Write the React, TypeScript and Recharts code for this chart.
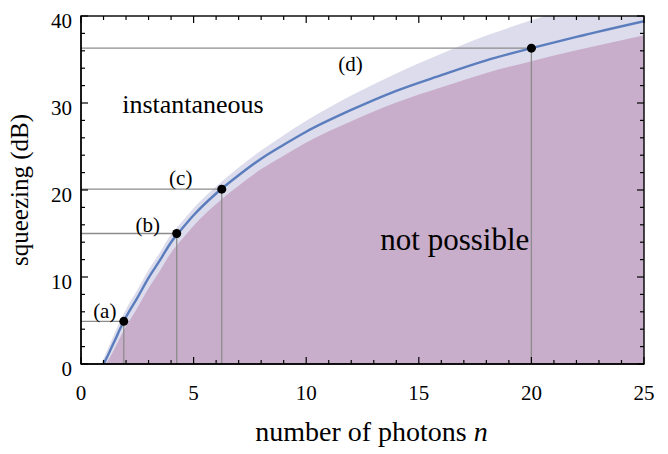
import React from 'react';
import {
  ComposedChart,
  Area,
  Line,
  Scatter,
  XAxis,
  YAxis,
  ReferenceLine,
  ReferenceDot,
  Label,
} from 'recharts';

// ---------- data ----------
const photons = [0.9, 1, 1.1, 1.25, 1.5, 1.75, 2, 2.5, 3, 3.5, 4, 4.5, 5, 6, 7, 8, 9, 10, 12, 14, 16, 18, 20, 22, 25];
const squeezing = [null, 0, 0.5, 1.3, 2.7, 4.1, 5.4, 7.6, 9.9, 11.9, 14.0, 15.6, 17.1, 19.6, 21.7, 23.6, 25.2, 26.7, 29.2, 31.4, 33.2, 34.9, 36.3, 37.6, 39.4];
const upperBound = [0, 0.6, 1.2, 2.1, 3.6, 5.0, 6.3, 8.5, 10.8, 12.8, 14.9, 16.4, 17.9, 20.4, 22.6, 24.55, 26.3, 27.95, 30.85, 33.4, 35.65, 37.75, 39.5, 41.2, 43.6];
const lowerBound = [null, null, 0, 0.6, 1.8, 3.1, 4.3, 6.45, 8.7, 10.7, 12.8, 14.4, 15.9, 18.4, 20.5, 22.4, 23.95, 25.45, 27.9, 30.05, 31.8, 33.45, 34.8, 36.05, 37.8];

const markedN = [1.9, 4.25, 6.25, 20];
const markedDb = [4.9, 15.0, 20.1, 36.3];
const markLabels = ['(a)', '(b)', '(c)', '(d)'];

const xMinorTicks = [0, 1, 2, 3, 4, 5, 6, 7, 8, 9, 10, 11, 12, 13, 14, 15, 16, 17, 18, 19, 20, 21, 22, 23, 24, 25];
const xMajorTicks = [0, 5, 10, 15, 20, 25];
const yMinorTicks = [0, 2, 4, 6, 8, 10, 12, 14, 16, 18, 20, 22, 24, 26, 28, 30, 32, 34, 36, 38, 40];
const yMajorTicks = [0, 10, 20, 30, 40];

const regionTexts = ['instantaneous', 'not possible'];
const regionN = [4.97, 16.6];
const regionDb = [29.9, 14.4];

// ---------- build tables ----------
const table = photons.map((n, i) => ({
  n,
  upper: upperBound[i],
  squeezing: squeezing[i],
  lower: lowerBound[i],
}));
const points = markedN.map((n, i) => ({ n, db: markedDb[i], label: markLabels[i] }));

// ---------- layout & styling ----------
const X_MIN = 0;
const X_MAX = 25;
const Y_MIN = 0;
const Y_MAX = 40;
const CHART_W = 668;
const CHART_H = 454;
const MARGIN = { top: 16, right: 24, bottom: 0, left: 0 };
const Y_AXIS_W = 81;
const X_AXIS_H = 90;
const PLOT_LEFT = MARGIN.left + Y_AXIS_W;
const PLOT_TOP = MARGIN.top;
const PLOT_W = CHART_W - MARGIN.left - MARGIN.right - Y_AXIS_W;
const PLOT_H = CHART_H - MARGIN.top - MARGIN.bottom - X_AXIS_H;
const xPx = (v: number) => PLOT_LEFT + ((v - X_MIN) / (X_MAX - X_MIN)) * PLOT_W;
const yPx = (v: number) => PLOT_TOP + PLOT_H - ((v - Y_MIN) / (Y_MAX - Y_MIN)) * PLOT_H;

const FONT = '"Liberation Serif", "Times New Roman", serif';
const TICK_FS = 21;
const TEXT_FS = 26;
const MAJOR_PX = 7;
const MINOR_PX = 4;
const labelOffsets: Record<string, [number, number]> = {
  '(a)': [-19, -10],
  '(b)': [-29, -9],
  '(c)': [-41, -11],
  '(d)': [-181, 16],
};

const BottomTick = (props: any) => {
  const { x, y, payload } = props;
  return (
    <text x={x} y={y + 36} textAnchor="middle" fontSize={TICK_FS} fontFamily={FONT} fill="#000">
      {payload.value}
    </text>
  );
};
const LeftTick = (props: any) => {
  const { x, y, payload } = props;
  return (
    <text x={x - 9} y={y + 12} textAnchor="end" fontSize={TICK_FS} fontFamily={FONT} fill="#000">
      {payload.value}
    </text>
  );
};

const PointShape = (props: any) => {
  const { cx, cy, payload } = props;
  const [dx, dy] = labelOffsets[payload.label];
  return (
    <g>
      <circle cx={cx} cy={cy} r={4.5} fill="#000" />
      <text
        x={cx + dx}
        y={cy + dy}
        textAnchor="middle"
        dominantBaseline="central"
        fontSize={TICK_FS}
        fontFamily={FONT}
        fill="#000"
      >
        {payload.label}
      </text>
    </g>
  );
};

const frameStroke = { stroke: '#000', strokeWidth: 1.3 };
const guideStroke = { stroke: '#8c8c8c', strokeWidth: 1.3 };
const FRAME_COLOR = '#000';

// Frame with inward major/minor ticks on all four sides (axis decoration only)
function FrameOverlay() {
  const x0 = xPx(X_MIN);
  const x1 = xPx(X_MAX);
  const y0 = yPx(Y_MIN);
  const y1 = yPx(Y_MAX);
  return (
    <svg
      width={CHART_W}
      height={CHART_H}
      style={{ position: 'absolute', left: 0, top: 0, pointerEvents: 'none', zIndex: 5 }}
    >
      <g stroke={FRAME_COLOR} strokeWidth={1.2} fill="none">
        {xMinorTicks.map((v) => {
          const len = xMajorTicks.includes(v) ? MAJOR_PX : MINOR_PX;
          const x = xPx(v);
          return (
            <g key={`x${v}`}>
              <line x1={x} x2={x} y1={y0} y2={y0 - len} />
              <line x1={x} x2={x} y1={y1} y2={y1 + len} />
            </g>
          );
        })}
        {yMinorTicks.map((v) => {
          const len = yMajorTicks.includes(v) ? MAJOR_PX : MINOR_PX;
          const y = yPx(v);
          return (
            <g key={`y${v}`}>
              <line x1={x0} x2={x0 + len} y1={y} y2={y} />
              <line x1={x1} x2={x1 - len} y1={y} y2={y} />
            </g>
          );
        })}
        <rect x={x0} y={y1} width={x1 - x0} height={y0 - y1} strokeWidth={1.4} />
      </g>
    </svg>
  );
}

export default function App() {
  return (
    <div style={{ position: 'absolute', left: 0, top: 0, width: CHART_W, height: CHART_H, background: '#fff' }}>
      <ComposedChart width={CHART_W} height={CHART_H} data={table} margin={MARGIN}>
        <XAxis
          dataKey="n"
          type="number"
          domain={[X_MIN, X_MAX]}
          allowDataOverflow
          ticks={xMajorTicks}
          interval={0}
          tickLine={false}
          tickSize={0}
          tickMargin={0}
          tick={BottomTick}
          axisLine={frameStroke}
          height={X_AXIS_H}
        >
          <Label
            content={({ viewBox }: any) => (
              <text
                x={viewBox.x + viewBox.width / 2 + 9}
                y={viewBox.y + 77}
                textAnchor="middle"
                fontSize={28}
                fontFamily={FONT}
                fill="#000"
              >
                number of photons <tspan fontStyle="italic">n</tspan>
              </text>
            )}
          />
        </XAxis>
        <YAxis
          type="number"
          domain={[Y_MIN, Y_MAX]}
          allowDataOverflow
          ticks={yMajorTicks}
          interval={0}
          tickLine={false}
          tickSize={0}
          tickMargin={0}
          tick={LeftTick}
          axisLine={frameStroke}
          width={Y_AXIS_W}
        >
          <Label
            content={({ viewBox }: any) => {
              const cx = 28;
              const cy = viewBox.y + viewBox.height / 2;
              return (
                <text
                  x={cx}
                  y={cy}
                  transform={`rotate(-90, ${cx}, ${cy})`}
                  textAnchor="middle"
                  fontSize={25}
                  fontFamily={FONT}
                  fill="#000"
                >
                  squeezing (dB)
                </text>
              );
            }}
          />
        </YAxis>

        <Area dataKey="upper" type="monotone" fill="#dcdcec" fillOpacity={1} stroke="none" isAnimationActive={false} />
        <Area dataKey="lower" type="monotone" fill="#c9aecb" fillOpacity={1} stroke="none" isAnimationActive={false} />

        {points.map((p) => (
          <ReferenceLine
            key={`h${p.label}`}
            segment={[{ x: X_MIN, y: p.db }, { x: p.n, y: p.db }]}
            {...guideStroke}
          />
        ))}
        {points.map((p) => (
          <ReferenceLine
            key={`v${p.label}`}
            segment={[{ x: p.n, y: Y_MIN }, { x: p.n, y: p.db }]}
            {...guideStroke}
          />
        ))}

        <Line
          dataKey="squeezing"
          type="monotone"
          stroke="#5b7dbd"
          strokeWidth={2.4}
          dot={false}
          activeDot={false}
          isAnimationActive={false}
        />

        <Scatter data={points} dataKey="db" shape={PointShape} isAnimationActive={false} />

        <ReferenceDot x={regionN[0]} y={regionDb[0]} r={0} fill="none" stroke="none">
          <Label value={regionTexts[0]} position="center" fontSize={TEXT_FS} fontFamily={FONT} fill="#000" />
        </ReferenceDot>
        <ReferenceDot x={regionN[1]} y={regionDb[1]} r={0} fill="none" stroke="none">
          <Label value={regionTexts[1]} position="center" fontSize={31} fontFamily={FONT} fill="#000" />
        </ReferenceDot>
      </ComposedChart>
      <FrameOverlay />
    </div>
  );
}
